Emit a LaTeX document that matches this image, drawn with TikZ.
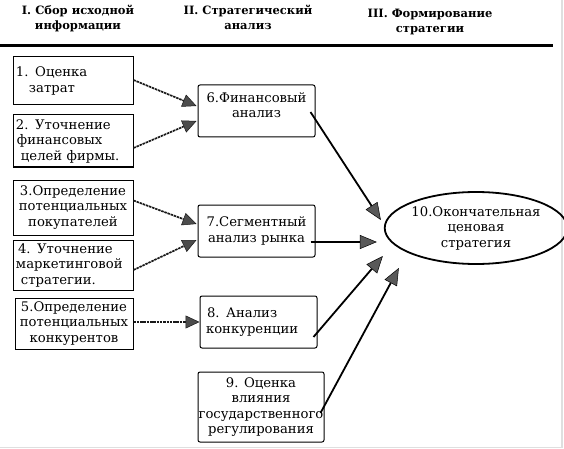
\documentclass[tikz,border=0pt]{standalone}
\usepackage{fontspec}
\setmainfont{DejaVu Serif}
\usetikzlibrary{arrows.meta,calc,shapes.geometric}
\begin{document}
\begin{tikzpicture}[x=1pt,y=-1pt,
  box/.style={draw,line width=1pt,inner sep=1pt,font=\fontsize{13.2}{15.5}\selectfont,align=center},
  lbox/.style={box,inner sep=3pt,align=left},
  rbox/.style={box,rounded corners=2pt},
  hdr/.style={font=\bfseries\fontsize{11.5}{15}\selectfont,align=center},
  dotline/.style={line width=1.7pt,black!90,dash pattern=on 2.5pt off 0.8pt,
     -{Triangle[length=14pt,width=13pt,fill=black!70,line width=0.5pt]}},
  solid/.style={line width=1.8pt,
     -{Triangle[length=17pt,width=14pt,fill=black!65,line width=0.5pt]}}]
\useasboundingbox (0,0) rectangle (564,449);
\draw[gray!25,line width=1.5pt] (562,0) -- (562,447.5) -- (0,447.5);
% headers
\node[hdr] (h1) at (78,19) {I. Сбор исходной\\информации};
\node[hdr] (h2) at (248,17) {II. Стратегический\\анализ};
\node[hdr] (h3) at (430,22) {III. Формирование\\стратегии};
\draw[line width=3pt] (0,46) -- (553,46);
% left boxes
\node[lbox,text width=114pt,minimum height=48pt] (b1) at (73,81) {1. Оценка\\\hspace{13pt}затрат\\[-6pt]};
\node[lbox,text width=114pt,minimum height=52pt] (b2) at (73,141) {2. Уточнение\\\hspace{1pt}финансовых\\\hspace{5pt}целей фирмы.};
\node[box,minimum width=120pt,minimum height=55pt] (b3) at (73,207.5) {3.Определение\\потенциальных\\покупателей};
\node[lbox,text width=114pt,minimum height=50pt] (b4) at (73,265) {\hspace{2pt}4. Уточнение\\маркетинговой\\\hspace{5pt}стратегии.};
\node[box,minimum width=118pt,minimum height=51pt] (b5) at (74,323.5) {5.Определение\\потенциальных\\конкурентов};
% middle boxes
\node[rbox,minimum width=117pt,minimum height=52pt] (b6) at (256.5,111) {6.Финансовый\\анализ\\[-3.5pt]};
\node[rbox,minimum width=117pt,minimum height=52pt] (b7) at (256.5,231) {7.Сегментный\\анализ рынка};
\node[lbox,rounded corners=2pt,text width=111pt,minimum height=52pt] (b8) at (258.5,322) {\hspace{4pt}8. Анализ\\\hspace{3pt}конкуренции\\[4.5pt]};
\node[rbox,minimum width=126pt,minimum height=70pt,inner sep=0pt] (b9) at (261,407) {9. Оценка\\влияния\\государственного\\регулирования};
% ellipse
\node[draw,ellipse,line width=1.8pt,minimum width=146pt,minimum height=72pt,inner sep=0pt,
  font=\fontsize{13.2}{15.5}\selectfont,align=center] (e) at (476,228) {10.Окончательная\\ценовая\\стратегия};
% dotted arrows
\draw[dotline] ([yshift=1pt]b1.east) -- ([xshift=-1pt,yshift=5pt]b6.west);
\draw[dotline] ([yshift=-7pt]b2.east) -- ([xshift=-1pt,yshift=-10pt]b6.west);
\draw[dotline] ([yshift=7pt]b3.east) -- ([xshift=-1pt,yshift=7pt]b7.west);
\draw[dotline] ([yshift=-5pt]b4.east) -- ([xshift=-1pt,yshift=-9pt]b7.west);
\draw[dotline] ([yshift=1.5pt]b5.east) -- ([yshift=0pt]b8.west);
% solid arrows
\draw[solid] ([xshift=-5pt,yshift=-1pt]b6.east) -- ([xshift=-3pt,yshift=8pt]e.west);
\draw[solid] ([xshift=-5pt,yshift=-11pt]b7.east) -- ([xshift=-7pt,yshift=-14pt]e.west);
\draw[solid] ([xshift=-4pt,yshift=-15pt]b8.east) -- ([xshift=-1pt,yshift=-28pt]e.west);
\draw[solid] ([xshift=-4pt,yshift=-6pt]b9.east) -- ([xshift=15pt,yshift=-40pt]e.west);
\end{tikzpicture}
\end{document}
